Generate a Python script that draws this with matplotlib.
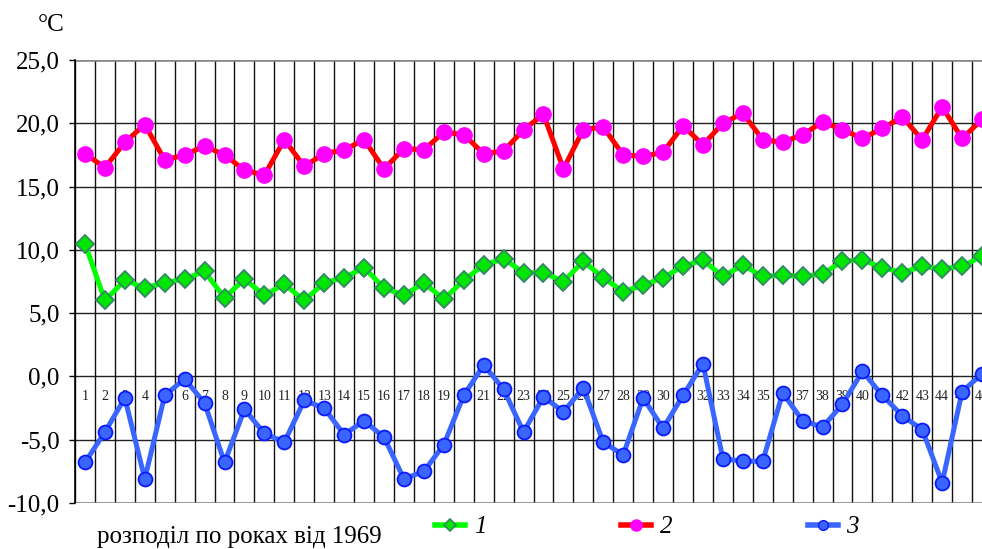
import matplotlib
matplotlib.use("Agg")
import matplotlib.pyplot as plt
from matplotlib.lines import Line2D

plt.rcParams['font.family'] = ['Liberation Serif', 'DejaVu Serif']

# --------------------------------
# Data
# --------------------------------
years = list(range(1, 47))

series_1 = [10.5, 6.0, 7.6, 7.0, 7.4, 7.7, 8.3, 6.2, 7.7, 6.4,
            7.3, 6.0, 7.4, 7.8, 8.6, 7.0, 6.4, 7.4, 6.1, 7.6,
            8.8, 9.3, 8.2, 8.2, 7.5, 9.1, 7.8, 6.7, 7.2, 7.8,
            8.7, 9.2, 7.9, 8.8, 7.9, 8.0, 7.9, 8.1, 9.1, 9.2,
            8.6, 8.2, 8.7, 8.5, 8.7, 9.5]

series_2 = [17.6, 16.5, 18.5, 19.9, 17.1, 17.5, 18.2, 17.5, 16.3, 15.9,
            18.7, 16.6, 17.6, 17.9, 18.7, 16.4, 18.0, 17.9, 19.3, 19.1,
            17.6, 17.8, 19.5, 20.7, 16.4, 19.5, 19.7, 17.5, 17.4, 17.7,
            19.8, 18.3, 20.0, 20.8, 18.7, 18.5, 19.1, 20.1, 19.5, 18.8,
            19.6, 20.5, 18.7, 21.3, 18.8, 20.3]

series_3 = [-6.8, -4.4, -1.7, -8.1, -1.5, -0.2, -2.1, -6.8, -2.6, -4.5,
            -5.2, -1.9, -2.5, -4.6, -3.5, -4.8, -8.1, -7.5, -5.4, -1.5,
            0.9, -1.0, -4.4, -1.6, -2.8, -0.9, -5.2, -6.2, -1.7, -4.1,
            -1.5, 1.0, -6.5, -6.7, -6.7, -1.3, -3.5, -4.0, -2.2, 0.4,
            -1.5, -3.1, -4.2, -8.4, -1.2, 0.2]

y_ticks = [-10, -5, 0, 5, 10, 15, 20, 25]
legend_labels = ["1", "2", "3"]

# --------------------------------
# Figure / axes (axes runs past the right edge, as in the original crop)
# --------------------------------
fig = plt.figure(figsize=(9.82, 5.49), dpi=100)
ax = fig.add_axes([75 / 982, 46 / 549, 917 / 982, 443 / 549])

ax.set_xlim(0.5, 46.5)
ax.set_ylim(-10, 25)

# grid: horizontal at every tick, vertical between categories
for y in y_ticks:
    ax.axhline(y, color="#222222", lw=1.0, zorder=1)
for x in range(0, 47):
    ax.axvline(x + 0.5, color="#111111", lw=1.0, zorder=1)

for side in ["top", "right", "bottom"]:
    ax.spines[side].set_visible(False)
ax.axhline(25, color="#888888", lw=1.8, zorder=1)
ax.axhline(-10, color="#888888", lw=1.8, zorder=1)
ax.spines["left"].set_color("black")
ax.spines["left"].set_linewidth(1.2)

ax.set_yticks(y_ticks)
ax.set_yticklabels([f"{v:.1f}".replace(".", ",") for v in y_ticks], fontsize=18)
ax.tick_params(axis="y", direction="out", length=4, width=1, pad=7)
ax.set_xticks([])

# category numbers just below the zero line
for yr in years:
    ax.annotate(str(yr), (yr, 0), xytext=(0, -14.5), textcoords="offset points",
                ha="center", va="center", fontsize=10, color="#222222", zorder=2)

# --------------------------------
# Series
# --------------------------------
ax.plot(years, series_1, color="#00ff00", lw=3.6, marker="D", markersize=9,
        markerfacecolor="#00e600", markeredgecolor="#338866", markeredgewidth=1.3,
        zorder=3)
ax.plot(years, series_2, color="#ff0000", lw=3.6, marker="o", markersize=11,
        markerfacecolor="#ff00ff", markeredgecolor="#ff00ff", zorder=3)
ax.plot(years, series_3, color="#3a66ff", lw=3.6, marker="o", markersize=10,
        markerfacecolor="#3a66ff", markeredgecolor="#0a1aff", markeredgewidth=1.3,
        zorder=4)

# --------------------------------
# Texts and legend
# --------------------------------
fig.text(38 / 982, 1 - 25 / 549, "°C", fontsize=18, va="center", ha="left")
fig.text(97 / 982, 1 - 537 / 549, "розподіл по роках від 1969", fontsize=18,
         va="center", ha="left")

handles = [
    Line2D([], [], color="#00ff00", lw=4, marker="D", markersize=6,
           markerfacecolor="#00e600", markeredgecolor="#338866", markeredgewidth=1.2),
    Line2D([], [], color="#ff0000", lw=4, marker="o", markersize=8,
           markerfacecolor="#ff00ff", markeredgecolor="#ff00ff"),
    Line2D([], [], color="#3a66ff", lw=4, marker="o", markersize=7,
           markerfacecolor="#3a66ff", markeredgecolor="#0a1aff"),
]
fig.legend(handles, legend_labels, ncol=3, frameon=False,
           loc="center left", bbox_to_anchor=(435 / 982, 1 - 527 / 549),
           borderpad=0, borderaxespad=0, handlelength=1.2, handletextpad=0.35,
           columnspacing=5.4, prop={"size": 18, "style": "italic"})

fig.savefig("out.png", dpi=100)
